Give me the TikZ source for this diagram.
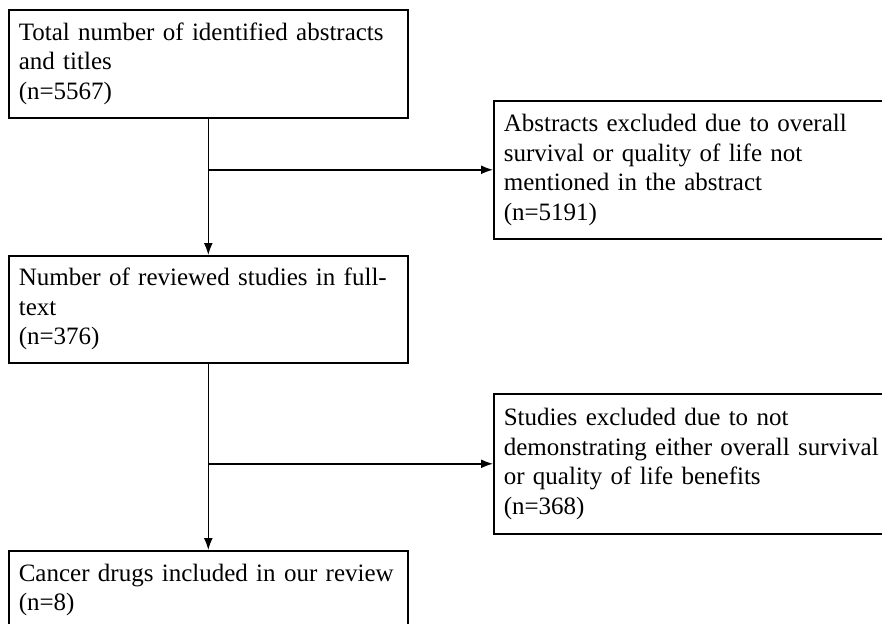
\documentclass[tikz,border=0pt]{standalone}
\usepackage{fontspec}
\setmainfont{Liberation Serif}
\usepackage{tikz}
\usetikzlibrary{arrows.meta,calc}

\begin{document}
\begin{tikzpicture}[
  x=1pt, y=-1pt,
  >={Latex[length=12pt,width=9pt]},
  line join=miter,
  every node/.style={font=\fontsize{25}{29.5}\selectfont},
  stagebox/.style={draw, line width=1.6pt, anchor=north west,
    inner xsep=10pt, inner ysep=9pt, align=left},
  mainbox/.style={stagebox, text width=379pt, minimum width=399pt},
  exclbox/.style={stagebox, text width=390pt, minimum width=410pt},
  flow/.style={->, line width=1.4pt}
]
  \useasboundingbox (0,0) rectangle (882,623);

  % Main stages (left column)
  \node[mainbox, minimum height=108pt] (total) at (8,9)
    {Total number of identified abstracts\\and titles\\(n=5567)};
  \node[mainbox, minimum height=107pt] (full) at (8,255)
    {Number of reviewed studies in full-\\text\\(n=376)};
  \node[mainbox, minimum height=78pt] (incl) at (8,550)
    {Cancer drugs included in our review\\(n=8)};

  % Exclusions (right column)
  \node[exclbox, minimum height=138pt] (exclabs) at (493,100)
    {Abstracts excluded due to overall\\survival or quality of life not\\mentioned in the abstract\\(n=5191)};
  \node[exclbox, minimum height=140pt] (exclfull) at (493,393)
    {Studies excluded due to not\\demonstrating either overall survival\\or quality of life benefits\\(n=368)};

  % Connectors
  \draw[flow] (total.south) -- (full.north);
  \draw[flow] (full.south) -- (incl.north);
  \draw[flow] (total.south |- exclabs.west) -- (exclabs.west);
  \draw[flow] (full.south |- exclfull.west) -- (exclfull.west);
\end{tikzpicture}
\end{document}
